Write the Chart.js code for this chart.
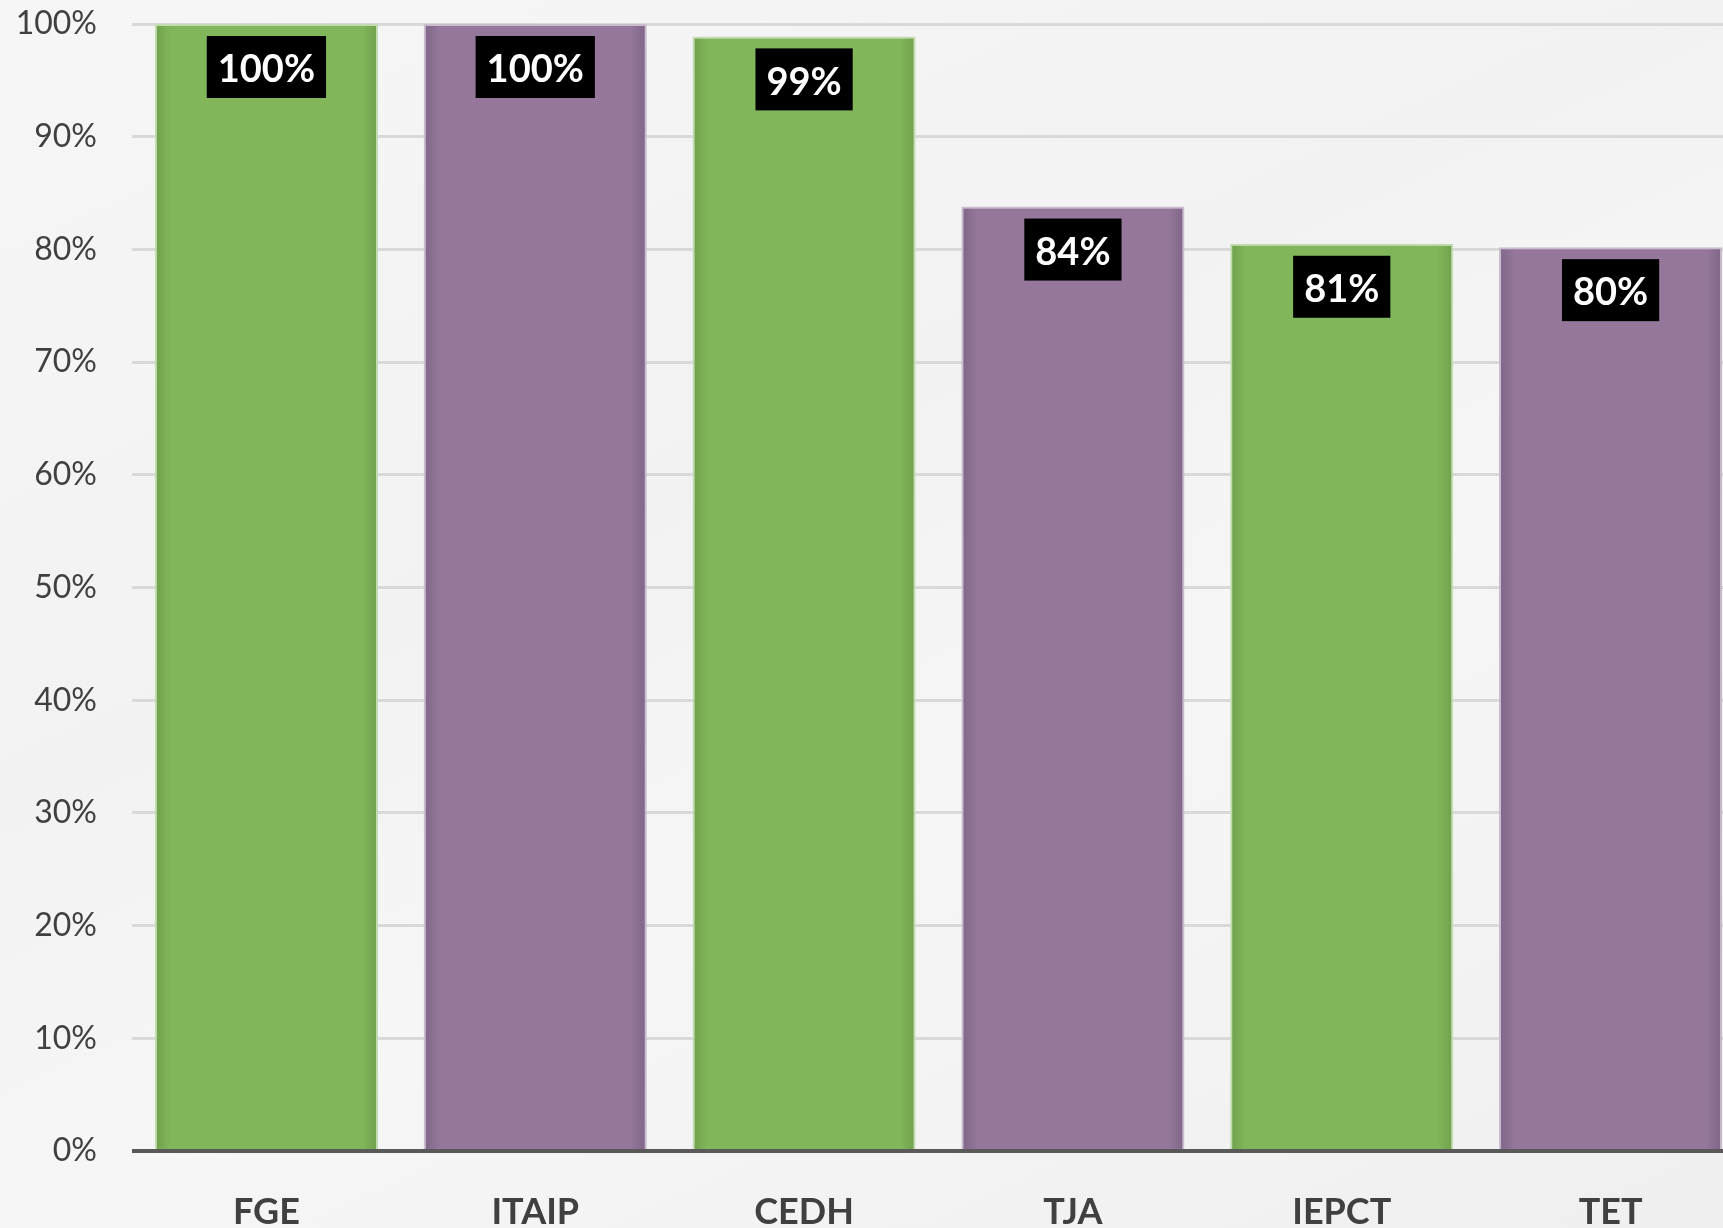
<!DOCTYPE html>
<html lang="es">
<head>
<meta charset="UTF-8">
<title>Porcentaje por organismo</title>
<script src="https://cdn.jsdelivr.net/npm/chart.js@4/dist/chart.umd.min.js"></script>
<style>
    html, body { margin: 0; padding: 0; }
    body {
        width: 1723px; height: 1228px; overflow: hidden;
        background: linear-gradient(155deg, #f6f6f6 0%, #f2f2f2 40%, #f6f6f6 60%, #efefef 100%);
    }
    #wrap { position: relative; width: 1723px; height: 1228px; overflow: hidden; }
    canvas { display: block; }
</style>
</head>
<body>
<div id="wrap"><canvas id="chart" width="1760" height="1228"></canvas></div>
<script>
// datos
const categories = ['FGE', 'ITAIP', 'CEDH', 'TJA', 'IEPCT', 'TET'];
const values = [100, 100, 98.9, 83.8, 80.5, 80.2];
const valueLabels = ['100%', '100%', '99%', '84%', '81%', '80%'];
const yTicks = [0, 10, 20, 30, 40, 50, 60, 70, 80, 90, 100];

const GREEN = ['#6f9f4c', '#81b75a'];
const PURPLE = ['#7f6587', '#94779b'];
const BAR_PCT = 0.83;

function palette(i) { return i % 2 === 0 ? GREEN : PURPLE; }

// gradiente horizontal para dar el sombreado de los bordes de cada barra
function barFill(context) {
    const chart = context.chart;
    const pal = palette(context.dataIndex);
    const xs = chart.scales.x;
    if (!chart.chartArea || !xs) return pal[1];
    const cx = xs.getPixelForValue(context.dataIndex);
    const w = (xs.width / categories.length) * BAR_PCT;
    const g = chart.ctx.createLinearGradient(cx - w / 2, 0, cx + w / 2, 0);
    g.addColorStop(0, pal[0]);
    g.addColorStop(0.07, pal[1]);
    g.addColorStop(0.93, pal[1]);
    g.addColorStop(1, pal[0]);
    return g;
}

const labelBoxes = {
    id: 'labelBoxes',
    afterDatasetsDraw(chart) {
        const ctx = chart.ctx;
        const meta = chart.getDatasetMeta(0);
        ctx.save();
        ctx.font = 'bold 38px Lato';
        meta.data.forEach((bar, i) => {
            const txt = valueLabels[i];
            const tw = ctx.measureText(txt).width;
            const bw = tw + 22;
            const bh = 62;
            const top = bar.y + 12;
            ctx.fillStyle = '#000000';
            ctx.fillRect(bar.x - bw / 2, top, bw, bh);
            ctx.fillStyle = '#ffffff';
            ctx.textAlign = 'center';
            ctx.textBaseline = 'middle';
            ctx.fillText(txt, bar.x, top + bh / 2 + 3);
        });
        ctx.restore();
    }
};

const zeroLine = {
    id: 'zeroLine',
    afterDatasetsDraw(chart) {
        const ctx = chart.ctx;
        const y = chart.scales.y.getPixelForValue(0);
        ctx.save();
        ctx.strokeStyle = '#595959';
        ctx.lineWidth = 4;
        ctx.beginPath();
        ctx.moveTo(chart.chartArea.left, y);
        ctx.lineTo(chart.chartArea.right, y);
        ctx.stroke();
        ctx.restore();
    }
};

new Chart(document.getElementById('chart').getContext('2d'), {
    type: 'bar',
    data: {
        labels: categories,
        datasets: [{
            data: values,
            backgroundColor: barFill,
            borderColor: categories.map((c, i) => i % 2 === 0 ? '#c2dcb0' : '#c9bccd'),
            borderWidth: 2,
            borderSkipped: 'bottom',
            barPercentage: BAR_PCT,
            categoryPercentage: 1
        }]
    },
    options: {
        responsive: false,
        animation: false,
        devicePixelRatio: 1,
        layout: { padding: { top: 24, left: 0, right: 15, bottom: 0 } },
        plugins: {
            legend: { display: false },
            tooltip: { enabled: false }
        },
        scales: {
            x: {
                grid: { display: false, drawTicks: false },
                border: { display: false },
                ticks: {
                    color: '#404040',
                    font: { family: 'Lato', size: 36, weight: 'bold' },
                    padding: 40
                },
                afterFit(scale) {
                    scale.height = 1228 - 1151;
                    scale.paddingLeft = 0;
                    scale.paddingRight = 0;
                }
            },
            y: {
                min: 0,
                max: 100,
                afterBuildTicks(scale) { scale.ticks = yTicks.map(v => ({ value: v })); },
                grid: { color: '#d9d9d9', lineWidth: 3, drawTicks: false },
                border: { display: false },
                ticks: {
                    color: '#404040',
                    font: { family: 'Lato', size: 32 },
                    padding: 35,
                    callback: v => v + '%'
                },
                afterFit(scale) {
                    scale.width = 132;
                    scale.paddingTop = 0;
                    scale.paddingBottom = 0;
                }
            }
        }
    },
    plugins: [zeroLine, labelBoxes]
});
</script>
</body>
</html>
